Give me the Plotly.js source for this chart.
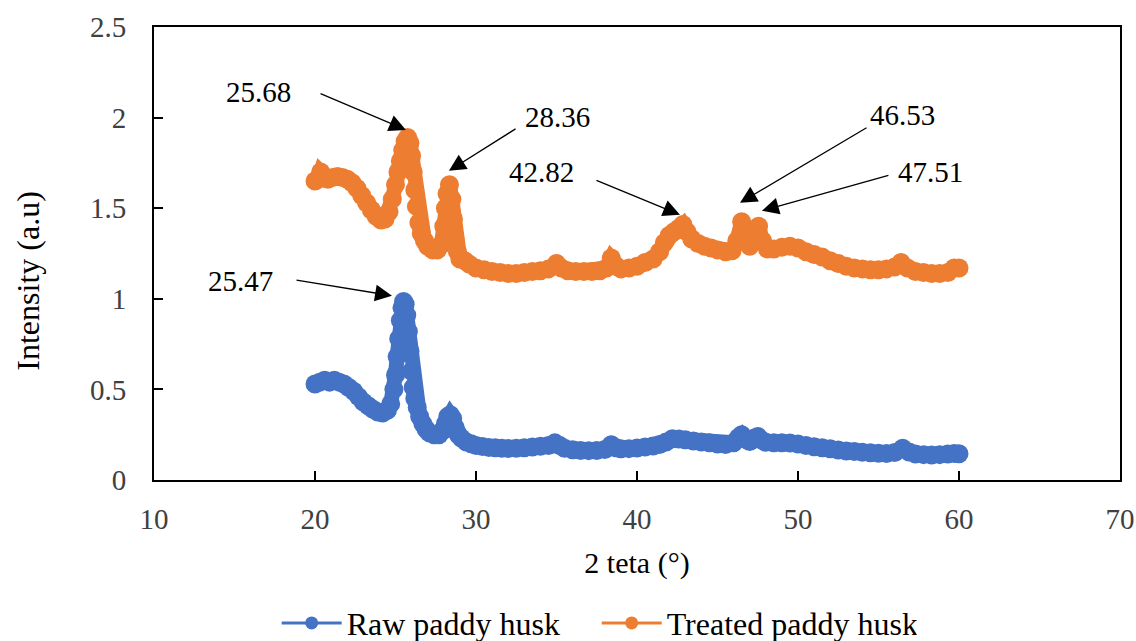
<!DOCTYPE html>
<html>
<head>
<meta charset="utf-8">
<script src="https://cdn.plot.ly/plotly-3.0.1.min.js"></script>
<style>html,body{margin:0;padding:0;background:#fff;}</style>
</head>
<body>
<div id="chart" style="width:1136px;height:641px"></div>
<script>
const rawX = [20.0,20.3,20.6,20.9,21.2,21.5,21.8,22.1,22.4,22.7,23.0,23.3,23.6,23.9,24.2,24.5,24.7,24.9,25.0,25.1,25.2,25.3,25.4,25.5,25.6,25.7,25.8,25.9,26.0,26.1,26.2,26.35,26.5,26.7,26.9,27.1,27.4,27.7,27.9,28.1,28.25,28.4,28.55,28.7,28.9,29.1,29.4,29.7,30.0,30.4,30.8,31.2,31.6,32.0,32.5,33.0,33.5,34.0,34.5,34.9,35.2,35.5,36.0,36.5,37.0,37.5,38.0,38.4,38.7,39.0,39.5,40.0,40.5,41.0,41.4,41.8,42.2,42.6,43.0,43.5,44.0,44.5,45.0,45.5,46.0,46.3,46.5,46.75,47.0,47.3,47.5,47.75,48.0,48.5,49.0,49.5,50.0,50.5,51.0,51.5,52.0,52.5,53.0,53.5,54.0,54.5,55.0,55.5,56.0,56.5,56.9,57.3,57.8,58.3,58.8,59.3,59.7,60.0];
const rawY = [0.53,0.54,0.55,0.54,0.55,0.54,0.53,0.51,0.49,0.46,0.43,0.41,0.39,0.375,0.37,0.385,0.42,0.50,0.58,0.68,0.78,0.88,0.95,0.985,0.97,0.91,0.82,0.71,0.60,0.51,0.45,0.40,0.35,0.31,0.28,0.26,0.25,0.25,0.27,0.31,0.35,0.36,0.34,0.29,0.25,0.23,0.21,0.20,0.19,0.185,0.18,0.178,0.175,0.174,0.175,0.178,0.182,0.186,0.19,0.205,0.19,0.175,0.167,0.163,0.162,0.163,0.168,0.195,0.178,0.172,0.173,0.176,0.182,0.188,0.196,0.21,0.228,0.226,0.222,0.215,0.21,0.205,0.198,0.196,0.205,0.235,0.25,0.225,0.212,0.232,0.24,0.22,0.208,0.206,0.205,0.204,0.198,0.19,0.183,0.178,0.172,0.166,0.16,0.157,0.153,0.15,0.148,0.146,0.152,0.175,0.155,0.143,0.14,0.138,0.14,0.143,0.146,0.145];

const treatedX = [20.0,20.2,20.35,20.5,20.8,21.1,21.4,21.7,22.0,22.3,22.6,22.9,23.2,23.5,23.8,24.1,24.35,24.6,24.8,25.0,25.15,25.3,25.45,25.6,25.75,25.9,26.0,26.1,26.2,26.3,26.45,26.6,26.8,27.0,27.3,27.6,27.85,28.0,28.1,28.2,28.35,28.5,28.6,28.7,28.85,29.0,29.3,29.6,30.0,30.5,31.0,31.5,32.0,32.5,33.0,33.5,34.0,34.5,35.0,35.3,35.7,36.2,36.7,37.2,37.7,38.1,38.4,38.7,39.0,39.5,40.0,40.5,41.0,41.4,41.7,42.0,42.3,42.6,42.85,43.1,43.4,43.8,44.2,44.6,45.0,45.5,45.9,46.2,46.5,46.75,47.0,47.25,47.55,47.8,48.1,48.5,49.0,49.5,50.0,50.5,51.0,51.5,52.0,52.5,53.0,53.5,54.0,54.5,55.0,55.5,56.0,56.4,56.8,57.3,57.8,58.3,58.8,59.3,59.7,60.0];
const treatedY = [1.65,1.66,1.70,1.67,1.66,1.67,1.675,1.67,1.66,1.64,1.61,1.57,1.53,1.49,1.455,1.435,1.44,1.48,1.55,1.63,1.70,1.76,1.82,1.87,1.89,1.86,1.79,1.70,1.60,1.51,1.42,1.36,1.32,1.29,1.27,1.27,1.30,1.40,1.50,1.58,1.63,1.55,1.44,1.33,1.26,1.22,1.21,1.19,1.17,1.16,1.15,1.145,1.14,1.14,1.145,1.15,1.155,1.165,1.195,1.17,1.155,1.15,1.15,1.15,1.155,1.17,1.225,1.18,1.165,1.17,1.18,1.20,1.22,1.26,1.31,1.35,1.37,1.39,1.41,1.37,1.33,1.305,1.29,1.28,1.27,1.26,1.265,1.32,1.425,1.35,1.29,1.33,1.40,1.32,1.275,1.275,1.285,1.29,1.28,1.26,1.245,1.23,1.21,1.195,1.18,1.17,1.165,1.16,1.16,1.165,1.175,1.20,1.17,1.15,1.145,1.14,1.14,1.145,1.17,1.17];

const seriesNames = ['Raw paddy husk', 'Treated paddy husk'];
const peakLabels = ['25.68', '28.36', '42.82', '46.53', '47.51', '25.47'];
const xTickVals = [10, 20, 30, 40, 50, 60, 70];
const yTickVals = [0, 0.5, 1, 1.5, 2, 2.5];
const yTickText = ['0', '0.5', '1', '1.5', '2', '2.5'];
const xTitle = '2 teta (°)';
const yTitle = 'Intensity (a.u)';

const BLUE = '#4472C4', ORANGE = '#ED7D31';
const FONT = 'Liberation Serif';

const traces = [
  {x: rawX, y: rawY, type: 'scatter', mode: 'lines+markers', showlegend: false,
   line: {color: BLUE, width: 15}, marker: {color: BLUE, size: 19}},
  {x: treatedX, y: treatedY, type: 'scatter', mode: 'lines+markers', showlegend: false,
   line: {color: ORANGE, width: 15}, marker: {color: ORANGE, size: 19}},
  {x: [null], y: [null], type: 'scatter', mode: 'lines+markers', name: seriesNames[0],
   line: {color: BLUE, width: 3}, marker: {color: BLUE, size: 13}},
  {x: [null], y: [null], type: 'scatter', mode: 'lines+markers', name: seriesNames[1],
   line: {color: ORANGE, width: 3}, marker: {color: ORANGE, size: 13}}
];

// label placement (text centre) and arrow tail / tip, in data units
const labelPos = [[16.46, 2.139], [35.09, 2.004], [34.04, 1.70], [56.52, 2.015], [58.2, 1.70], [15.40, 1.100]];
const arrowTail = [[20.25, 2.136], [32.55, 1.943], [37.39, 1.657], [54.35, 1.949], [55.71, 1.684], [18.76, 1.105]];
const arrowTip = [[25.65, 1.932], [28.32, 1.706], [42.67, 1.464], [46.40, 1.530], [47.76, 1.486], [24.78, 1.017]];

const annotations = [];
peakLabels.forEach((t, i) => {
  annotations.push({x: labelPos[i][0], y: labelPos[i][1], xref: 'x', yref: 'y', text: t,
    showarrow: false, font: {family: FONT, size: 29, color: '#000'}, xanchor: 'center', yanchor: 'middle'});
  annotations.push({x: arrowTip[i][0], y: arrowTip[i][1], xref: 'x', yref: 'y',
    ax: arrowTail[i][0], ay: arrowTail[i][1], axref: 'x', ayref: 'y', text: '',
    showarrow: true, arrowhead: 2, arrowsize: 2.6, arrowwidth: 1.3, arrowcolor: '#000'});
});
// y-axis title, placed as in the reference (slightly below the plot centre)
annotations.push({x: -0.1304, y: 0.44, xref: 'paper', yref: 'paper', text: yTitle, textangle: -90,
  showarrow: false, xanchor: 'center', yanchor: 'middle', font: {family: FONT, size: 32, color: '#000'}});

const layout = {
  width: 1136, height: 641,
  margin: {l: 154, r: 16, t: 27, b: 160.5, autoexpand: false},
  paper_bgcolor: '#fff', plot_bgcolor: '#fff',
  font: {family: FONT, size: 28, color: '#000'},
  xaxis: {range: [10, 70], tickvals: xTickVals, ticks: 'inside', ticklen: 9, tickwidth: 2, tickcolor: '#000',
    showline: true, linecolor: '#000', linewidth: 2, mirror: true, showgrid: false, zeroline: false,
    tickfont: {family: FONT, size: 29, color: '#404040'}, ticklabelstandoff: 12,
    title: {text: xTitle, font: {family: FONT, size: 30, color: '#000'}, standoff: 18}},
  yaxis: {range: [0, 2.5], tickvals: yTickVals, ticktext: yTickText, ticks: 'inside', ticklen: 9, tickwidth: 2, tickcolor: '#000',
    showline: true, linecolor: '#000', linewidth: 2, mirror: true, showgrid: false, zeroline: false,
    tickfont: {family: FONT, size: 29, color: '#404040'}, ticklabelstandoff: 20},
  legend: {orientation: 'h', x: 0.127, xanchor: 'left', y: -0.316, yanchor: 'middle',
    itemwidth: 60, entrywidth: 245, entrywidthmode: 'pixels',
    font: {family: FONT, size: 32, color: '#000'}, bgcolor: 'rgba(0,0,0,0)'},
  annotations: annotations
};

Plotly.newPlot('chart', traces, layout, {displayModeBar: false});
</script>
</body>
</html>
